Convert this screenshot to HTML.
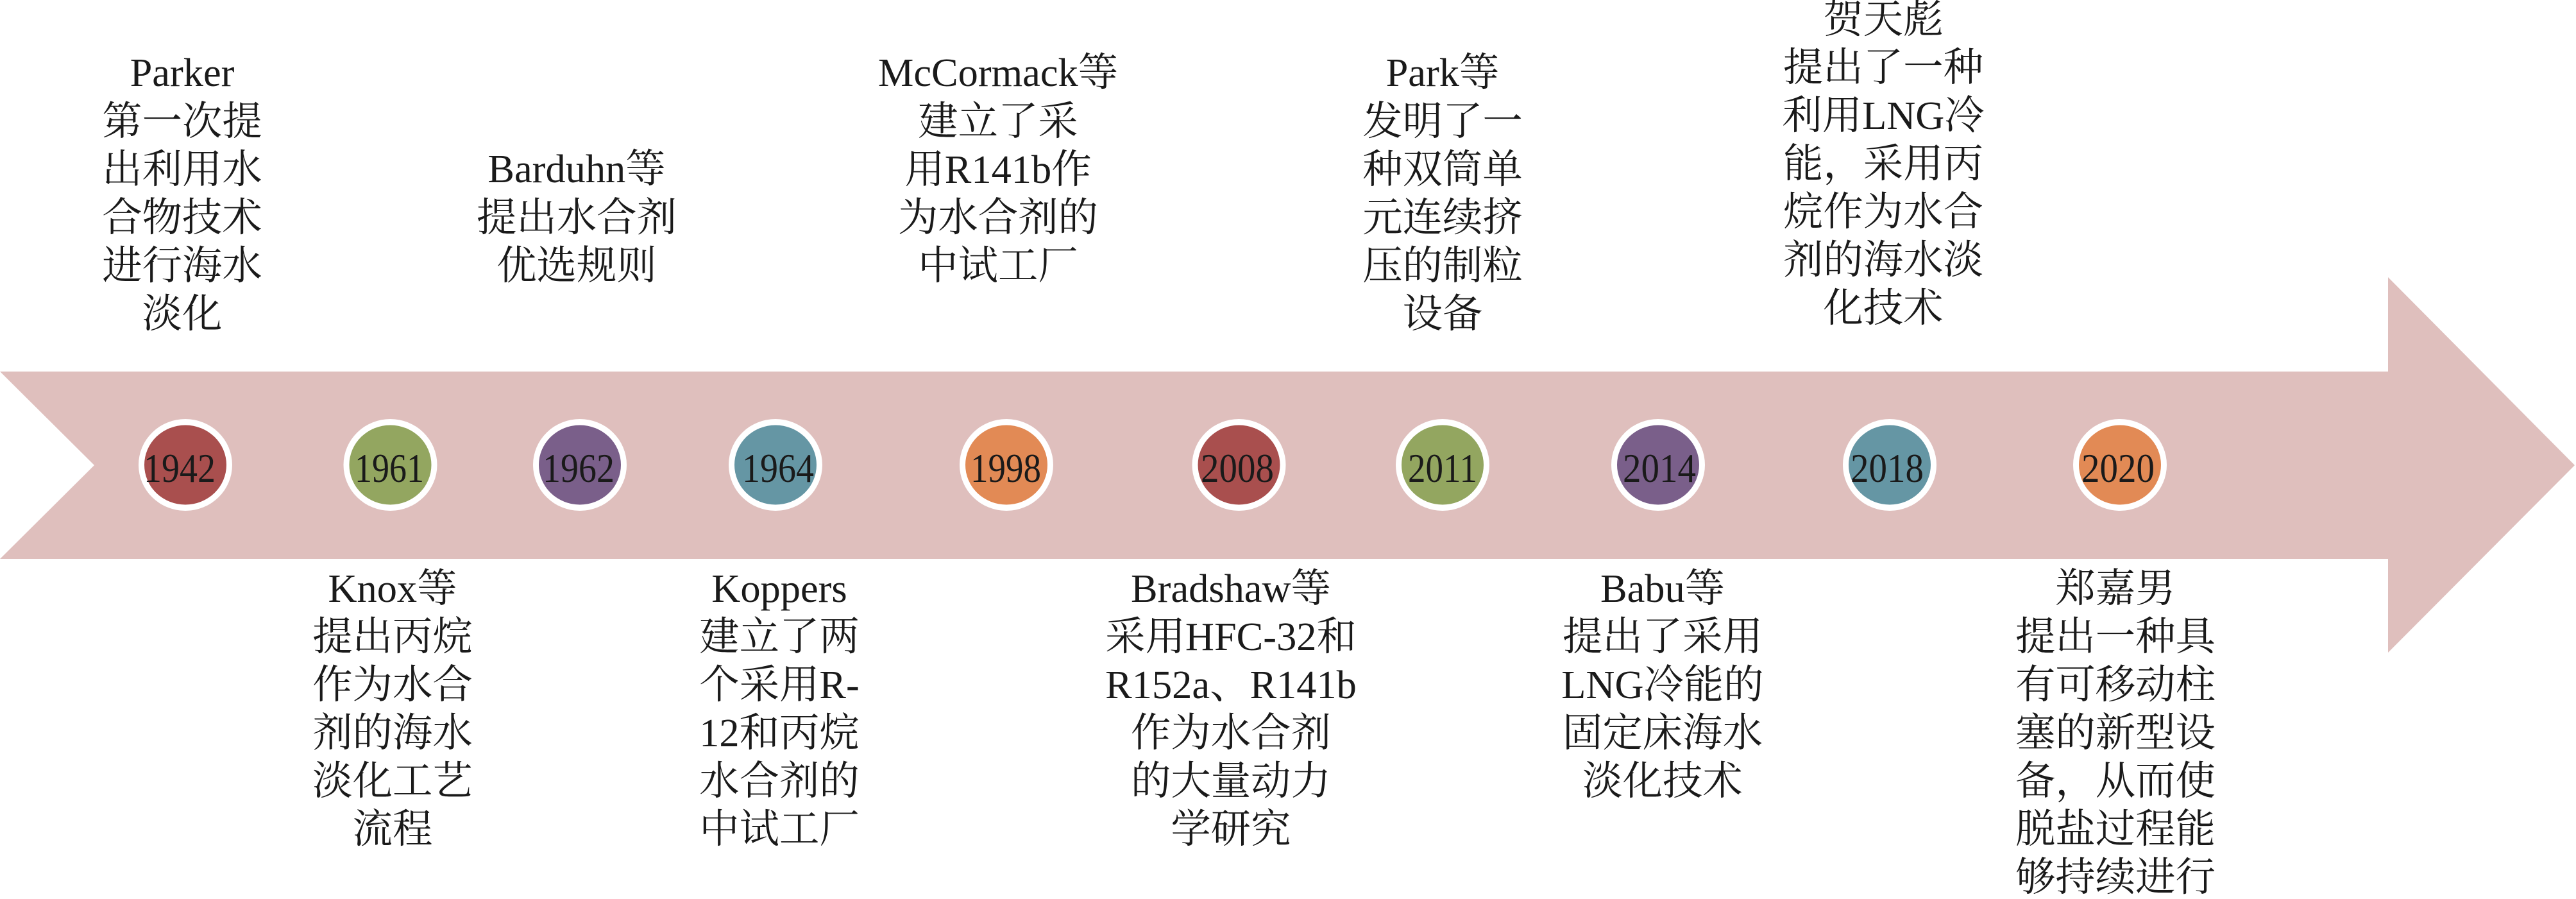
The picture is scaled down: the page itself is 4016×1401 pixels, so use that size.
<!DOCTYPE html>
<html lang="zh">
<head>
<meta charset="utf-8">
<style>
html,body{margin:0;padding:0;background:#fff;width:4016px;height:1401px;overflow:hidden}
svg{display:block}
text{font-family:"Liberation Serif","Noto Serif CJK SC",serif;font-size:62.4px;fill:#1a1a1a}
.l text{text-anchor:middle}
.y text{font-size:63px}
</style>
</head>
<body>
<svg width="4016" height="1401" viewBox="0 0 4016 1401" xmlns="http://www.w3.org/2000/svg">
<polygon points="0,579 3723,579 3723,432 4014,725 3723,1017 3723,871 0,871 147,725" fill="#dfbfbd"/>
<g fill="#fff">
<ellipse cx="289" cy="724.5" rx="73" ry="71.5"/>
<ellipse cx="608.5" cy="724.5" rx="73" ry="71.5"/>
<ellipse cx="904" cy="724.5" rx="73" ry="71.5"/>
<ellipse cx="1209" cy="724.5" rx="73" ry="71.5"/>
<ellipse cx="1569" cy="724.5" rx="73" ry="71.5"/>
<ellipse cx="1931.5" cy="724.5" rx="73" ry="71.5"/>
<ellipse cx="2249" cy="724.5" rx="73" ry="71.5"/>
<ellipse cx="2585" cy="724.5" rx="73" ry="71.5"/>
<ellipse cx="2946" cy="724.5" rx="73" ry="71.5"/>
<ellipse cx="3305" cy="724.5" rx="73" ry="71.5"/>
</g>
<ellipse cx="289" cy="724.5" rx="64" ry="62" fill="#a94f4e"/>
<ellipse cx="608.5" cy="724.5" rx="64" ry="62" fill="#93a660"/>
<ellipse cx="904" cy="724.5" rx="64" ry="62" fill="#7a5f8a"/>
<ellipse cx="1209" cy="724.5" rx="64" ry="62" fill="#6596a4"/>
<ellipse cx="1569" cy="724.5" rx="64" ry="62" fill="#e28a55"/>
<ellipse cx="1931.5" cy="724.5" rx="64" ry="62" fill="#a94f4e"/>
<ellipse cx="2249" cy="724.5" rx="64" ry="62" fill="#93a660"/>
<ellipse cx="2585" cy="724.5" rx="64" ry="62" fill="#7a5f8a"/>
<ellipse cx="2946" cy="724.5" rx="64" ry="62" fill="#6596a4"/>
<ellipse cx="3305" cy="724.5" rx="64" ry="62" fill="#e28a55"/>
<g class="y">
<text x="224" y="751" textLength="112" lengthAdjust="spacingAndGlyphs">1942</text>
<text x="553" y="751" textLength="108" lengthAdjust="spacingAndGlyphs">1961</text>
<text x="846" y="751" textLength="112" lengthAdjust="spacingAndGlyphs">1962</text>
<text x="1157" y="751" textLength="112" lengthAdjust="spacingAndGlyphs">1964</text>
<text x="1513" y="751" textLength="110" lengthAdjust="spacingAndGlyphs">1998</text>
<text x="1872" y="751" textLength="114" lengthAdjust="spacingAndGlyphs">2008</text>
<text x="2195" y="751" textLength="108" lengthAdjust="spacingAndGlyphs">2011</text>
<text x="2530" y="751" textLength="114" lengthAdjust="spacingAndGlyphs">2014</text>
<text x="2885" y="751" textLength="114" lengthAdjust="spacingAndGlyphs">2018</text>
<text x="3245" y="751" textLength="114" lengthAdjust="spacingAndGlyphs">2020</text>
</g>
<g class="l">
<text x="284" y="134">Parker</text>
<text x="284" y="210">第一次提</text>
<text x="284" y="285">出利用水</text>
<text x="284" y="360">合物技术</text>
<text x="284" y="435">进行海水</text>
<text x="284" y="510">淡化</text>

<text x="899" y="284">Barduhn等</text>
<text x="899" y="360">提出水合剂</text>
<text x="899" y="435">优选规则</text>

<text x="1556" y="134">McCormack等</text>
<text x="1556" y="210">建立了采</text>
<text x="1556" y="285">用R141b作</text>
<text x="1556" y="360">为水合剂的</text>
<text x="1556" y="435">中试工厂</text>

<text x="2249" y="134">Park等</text>
<text x="2249" y="210">发明了一</text>
<text x="2249" y="285">种双筒单</text>
<text x="2249" y="360">元连续挤</text>
<text x="2249" y="435">压的制粒</text>
<text x="2249" y="510">设备</text>

<text x="2936" y="51">贺天彪</text>
<text x="2936" y="126">提出了一种</text>
<text x="2936" y="201">利用LNG冷</text>
<text x="2936" y="276">能，采用丙</text>
<text x="2936" y="351">烷作为水合</text>
<text x="2936" y="426">剂的海水淡</text>
<text x="2936" y="501">化技术</text>

<text x="612" y="938">Knox等</text>
<text x="612" y="1013">提出丙烷</text>
<text x="612" y="1088">作为水合</text>
<text x="612" y="1163">剂的海水</text>
<text x="612" y="1238">淡化工艺</text>
<text x="612" y="1313">流程</text>

<text x="1215" y="938">Koppers</text>
<text x="1215" y="1013">建立了两</text>
<text x="1215" y="1088">个采用R-</text>
<text x="1215" y="1163">12和丙烷</text>
<text x="1215" y="1238">水合剂的</text>
<text x="1215" y="1313">中试工厂</text>

<text x="1919" y="938">Bradshaw等</text>
<text x="1919" y="1013">采用HFC-32和</text>
<text x="1919" y="1088">R152a、R141b</text>
<text x="1919" y="1163">作为水合剂</text>
<text x="1919" y="1238">的大量动力</text>
<text x="1919" y="1313">学研究</text>

<text x="2592" y="938">Babu等</text>
<text x="2592" y="1013">提出了采用</text>
<text x="2592" y="1088">LNG冷能的</text>
<text x="2592" y="1163">固定床海水</text>
<text x="2592" y="1238">淡化技术</text>

<text x="3298" y="938">郑嘉男</text>
<text x="3298" y="1013">提出一种具</text>
<text x="3298" y="1088">有可移动柱</text>
<text x="3298" y="1163">塞的新型设</text>
<text x="3298" y="1238">备，从而使</text>
<text x="3298" y="1313">脱盐过程能</text>
<text x="3298" y="1388">够持续进行</text>
</g>
</svg>
</body>
</html>
